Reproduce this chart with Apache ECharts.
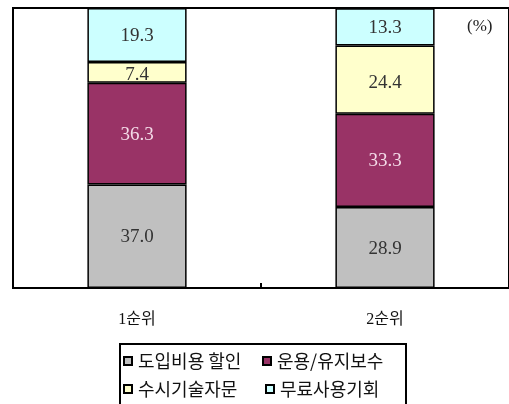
<!DOCTYPE html>
<html>
<head>
<meta charset="utf-8">
<script src="https://cdn.jsdelivr.net/npm/echarts@6/dist/echarts.min.js"></script>
<style>
  html, body { margin: 0; padding: 0; background: #fff; }
  #chart { width: 509px; height: 404px; }
</style>
</head>
<body>
<div id="chart"></div>
<script>
// Rank categories and stacked shares (%)
const categories = ['1순위', '2순위'];
const seriesNames = ['도입비용 할인', '운용/유지보수', '수시기술자문', '무료사용기회'];
const introDiscount = [37.0, 28.9];
const operationMaint = [36.3, 33.3];
const techConsult = [7.4, 24.4];
const freeTrial = [19.3, 13.3];

const colors = ['#c0c0c0', '#993366', '#ffffcc', '#ccffff'];
const labelColors = ['#333333', '#f4dbe8', '#333333', '#333333'];
const valueSets = [introDiscount, operationMaint, techConsult, freeTrial];
const labelOffsets = [[0, 1], [0, 1], [0, 3], [0, 1]];

const numFont = '"Liberation Serif", "DejaVu Serif", serif';
const krFont = '"Noto Sans CJK KR", sans-serif';
const mixFont = '"Liberation Serif", "Noto Sans CJK KR", serif';

const series = seriesNames.map((name, i) => ({
  name: name,
  type: 'bar',
  stack: 'total',
  barWidth: '40%',
  data: valueSets[i],
  itemStyle: { color: colors[i], borderColor: '#000', borderWidth: 1.5 },
  label: {
    show: true,
    position: 'inside',
    offset: labelOffsets[i],
    formatter: p => p.value.toFixed(1),
    color: labelColors[i],
    fontFamily: numFont,
    fontSize: 19
  }
}));

// One legend per entry, laid out as two rows inside a framed box
const legendPos = [
  { left: 123, top: 352 },
  { left: 262, top: 352 },
  { left: 123, top: 380 },
  { left: 265, top: 380 }
];
const legends = seriesNames.map((name, i) => ({
  data: [name],
  left: legendPos[i].left,
  top: legendPos[i].top,
  padding: 0,
  itemWidth: 8,
  itemHeight: 8,
  icon: 'rect',
  itemGap: 0,
  selectedMode: false,
  textStyle: { fontFamily: krFont, fontSize: 18, color: '#111', padding: [0, 0, 0, 1] }
}));

const chart = echarts.init(document.getElementById('chart'), null, { renderer: 'canvas' });
chart.setOption({
  animation: false,
  backgroundColor: '#fff',
  grid: {
    left: 13, right: -4, top: 8, bottom: 116,
    show: true, borderColor: '#000', borderWidth: 2, backgroundColor: 'transparent'
  },
  legend: legends,
  xAxis: {
    type: 'category',
    data: categories,
    axisLine: { show: true, lineStyle: { color: '#000', width: 2 } },
    axisTick: { show: true, inside: true, length: 5, lineStyle: { color: '#000', width: 2 } },
    axisLabel: { margin: 24, fontFamily: mixFont, fontSize: 16, color: '#111' }
  },
  yAxis: {
    type: 'value', min: 0, max: 100, show: false
  },
  graphic: [
    {
      type: 'rect',
      shape: { x: 120, y: 344, width: 286, height: 80 },
      style: { fill: 'none', stroke: '#000', lineWidth: 2 }
    },
    {
      type: 'text',
      left: 467, top: 18,
      style: { text: '(%)', font: '17px ' + numFont, fill: '#222' }
    }
  ],
  series: series
});
</script>
</body>
</html>
